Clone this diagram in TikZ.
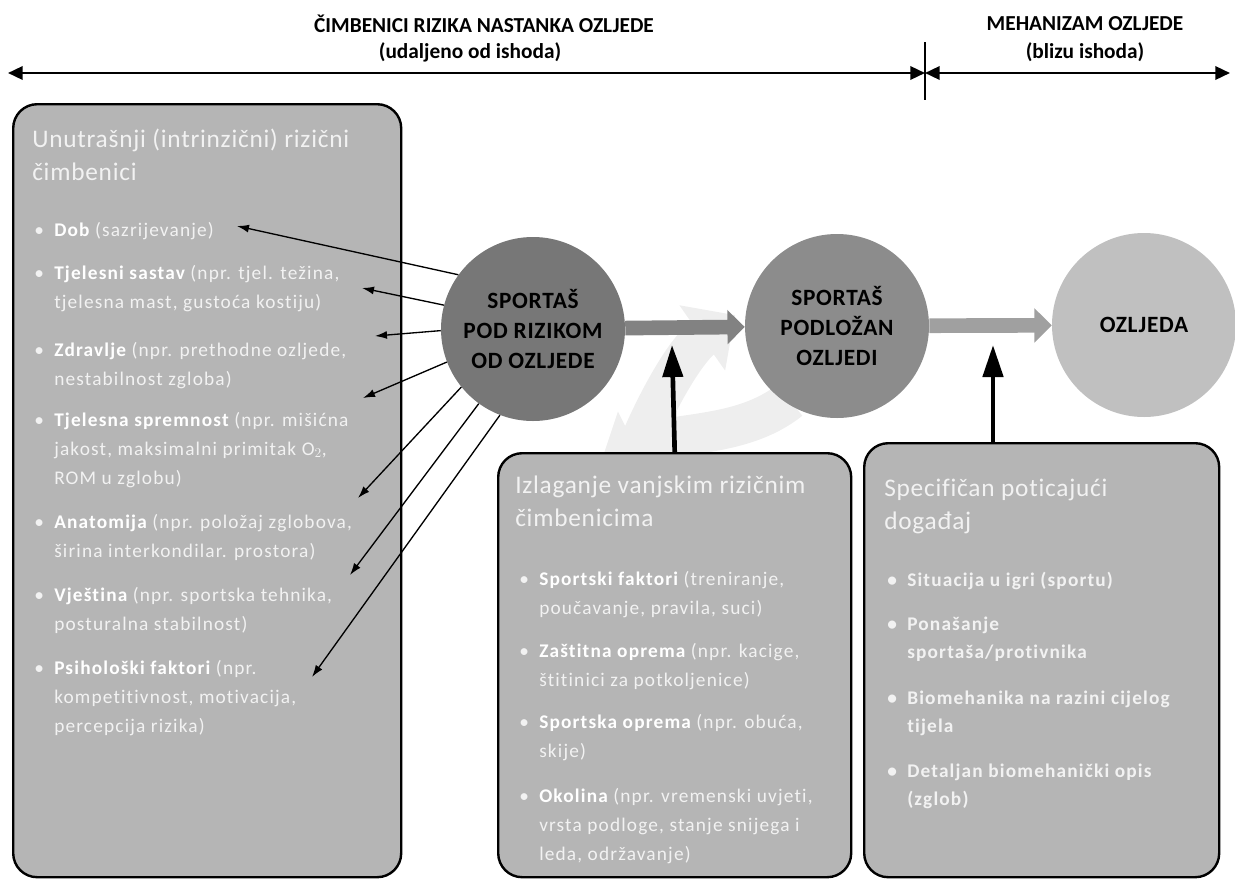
\documentclass[tikz,border=0pt]{standalone}
\usepackage{fontspec}
\setmainfont{Carlito}[Ligatures=NoCommon]
\newfontfamily\spaced[LetterSpace=6,Ligatures=NoCommon]{Carlito}
\newfontfamily\tspaced[LetterSpace=3,Ligatures=NoCommon]{Carlito}
\usetikzlibrary{arrows.meta,positioning,calc}

\definecolor{boxfill}{RGB}{181,181,181}
\definecolor{boxtext}{RGB}{242,242,242}
\definecolor{riskcol}{RGB}{119,119,119}
\definecolor{pronecol}{RGB}{140,140,140}
\definecolor{injcol}{RGB}{192,192,192}
\definecolor{flowcol}{RGB}{130,130,130}
\definecolor{flowcolb}{RGB}{160,160,160}
\definecolor{bgcol}{RGB}{238,238,238}

\newcommand{\blt}{\makebox[15pt][l]{\textbullet}}
\newcommand{\ind}{\hspace*{15pt}}

\tikzset{
  panel/.style={draw=black, line width=1.8pt, fill=boxfill, rounded corners=18pt, anchor=north west, inner sep=0pt},
  stage/.style={circle, fill=#1, minimum size=138pt, inner sep=0pt, align=center,
    font=\tspaced\fontsize{17.5}{22.5}\selectfont\bfseries},
  head/.style={font=\fontsize{16}{19}\selectfont\bfseries},
  ptitle/.style={anchor=base west, align=left, inner sep=0pt, text=boxtext,
    font=\tspaced\fontsize{19}{24.75}\selectfont},
  item/.style={anchor=base west, align=left, inner sep=0pt, text=boxtext,
    font=\spaced\fontsize{14.5}{21.75}\selectfont},
  bitem/.style={item, font=\spaced\fontsize{14.5}{21}\selectfont\bfseries},
  pull/.style={line width=1pt, -{Latex[length=9pt,width=6pt]}},
  push/.style={line width=3.5pt, -{Triangle[length=24pt,width=15pt]}},
  flow/.style={line width=11pt, draw=#1, -{Triangle[length=13pt,width=25pt]}},
  axis/.style={line width=1.8pt, {Triangle[length=11pt,width=10pt]}-{Triangle[length=11pt,width=10pt]}},
  bgflow/.style={line width=30pt, draw=bgcol, -{Triangle[length=30pt,width=58pt]}}
}

\begin{document}
\begin{tikzpicture}[x=0.75pt,y=-0.75pt]
\useasboundingbox (0,0) rectangle (1235,882);

% naslovi i vremenska os
\node[head] (farhead) at (484,24) {ČIMBENICI RIZIKA NASTANKA OZLJEDE};
\node[head] (farsub) at (470,52) {(udaljeno od ishoda)};
\node[head] (nearhead) at (1085,24) {MEHANIZAM OZLJEDE};
\node[head] (nearsub) at (1085,52) {(blizu ishoda)};

\coordinate (farL) at (8,73);
\coordinate (split) at (925,73);
\coordinate (farR) at (1230,73);
\coordinate (divT) at (925,42);
\coordinate (divB) at (925,100);
\draw[axis] (farL) -- (split);
\draw[axis] (split) -- (farR);
\draw[line width=1.5pt] (divT) -- (divB);

% blijeda pozadinska strelica
\draw[bgflow] (625,480) .. controls (650,410) and (685,350) .. (735,315);
\draw[bgflow] (790,400) .. controls (740,440) and (670,430) .. (600,465);

% kugle
\node[stage=riskcol] (risk) at (533,329) {SPORTAŠ\\POD RIZIKOM\\OD OZLJEDE};
\node[stage=pronecol] (prone) at (837,326) {SPORTAŠ\\PODLOŽAN\\OZLJEDI};
\node[stage=injcol] (injury) at (1144,325) {OZLJEDA};

\draw[flow=flowcol] (risk) -- (prone);
\draw[flow=flowcolb] (prone) -- (injury);

% okviri
\node[panel, minimum width=291pt, minimum height=579.75pt] (intr) at (12,103) {};
\node[panel, minimum width=264.75pt, minimum height=318pt] (extr) at (497,452) {};
\node[panel, minimum width=266.25pt, minimum height=325.5pt] (event) at (863,442) {};

\coordinate (extTip) at (672,345);
\coordinate (evtBase) at (993,442);
\coordinate (evtTip) at (993,345);
\draw[push] (extr.north) -- (extTip);
\draw[push] (evtBase) -- (evtTip);

% unutrasnji cimbenici (y = osnovica zadnjeg retka)
\node[ptitle] (intrT) at (32,180) {Unutrašnji (intrinzični) rizični\\čimbenici};
\node[item] (dob) at (34,236) {\blt\textbf{\color{white}Dob} (sazrijevanje)};
\node[item] (sastav) at (34,308) {\blt\textbf{\color{white}Tjelesni sastav} (npr. tjel. težina,\\\ind tjelesna mast, gustoća kostiju)};
\node[item] (zdravlje) at (34,385) {\blt\textbf{\color{white}Zdravlje} (npr. prethodne ozljede,\\\ind nestabilnost zgloba)};
\node[item] (sprem) at (34,484) {\blt\textbf{\color{white}Tjelesna spremnost} (npr. mišićna\\\ind jakost, maksimalni primitak O$_2$,\\\ind ROM u zglobu)};
\node[item] (anat) at (34,557) {\blt\textbf{\color{white}Anatomija} (npr. položaj zglobova,\\\ind širina interkondilar. prostora)};
\node[item] (vjest) at (34,630) {\blt\textbf{\color{white}Vještina} (npr. sportska tehnika,\\\ind posturalna stabilnost)};
\node[item] (psih) at (34,732) {\blt\textbf{\color{white}Psihološki faktori} (npr.\\\ind kompetitivnost, motivacija,\\\ind percepcija rizika)};

\foreach \ang/\tx/\ty [count=\i] in {144/237/226, 165/362/288, 181/375/336, 201/363/398, 219/358/498, 234/350/575, 249/312/677}
  {\coordinate (tip\i) at (\tx,\ty);
   \draw[pull] (risk.\ang) -- (tip\i);}

% vanjski cimbenici
\node[ptitle] (extrT) at (515,526) {Izlaganje vanjskim rizičnim\\čimbenicima};
\node[item] (sport) at (519,614) {\blt\textbf{\color{white}Sportski faktori} (treniranje,\\\ind poučavanje, pravila, suci)};
\node[item] (zast) at (519,686) {\blt\textbf{\color{white}Zaštitna oprema} (npr. kacige,\\\ind štitinici za potkoljenice)};
\node[item] (oprema) at (519,757) {\blt\textbf{\color{white}Sportska oprema} (npr. obuća,\\\ind skije)};
\node[item] (okolina) at (519,860) {\blt\textbf{\color{white}Okolina} (npr. vremenski uvjeti,\\\ind vrsta podloge, stanje snijega i\\\ind leda, održavanje)};

% poticajni dogadaj
\node[ptitle] (eventT) at (884,529) {Specifičan poticajući\\događaj};
\node[bitem] (sit) at (887,586) {\blt Situacija u igri (sportu)};
\node[bitem] (ponas) at (887,658) {\blt Ponašanje\\\ind sportaša/protivnika};
\node[bitem] (biom) at (887,732) {\blt Biomehanika na razini cijelog\\\ind tijela};
\node[bitem] (opis) at (887,805) {\blt Detaljan biomehanički opis\\\ind (zglob)};
\end{tikzpicture}
\end{document}
